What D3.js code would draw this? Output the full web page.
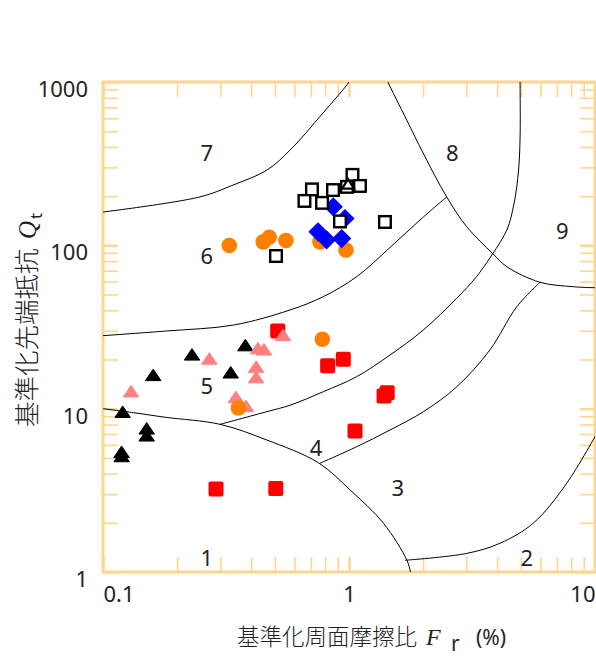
<!DOCTYPE html>
<html><head><meta charset="utf-8">
<script src="https://cdn.jsdelivr.net/npm/d3@7"></script>
<style>body{margin:0;background:#fff}</style>
</head><body>
<svg id="chart" width="596" height="657"></svg>
<script>
// ---------------- data ----------------
const xTickLabels = ["0.1", "1", "10"];
const yTickLabels = ["1", "10", "100", "1000"];

// soil behaviour zone boundaries  [Fr (%), Qt]
const boundary1  = [[0.1,10],[0.133,9.45],[0.18,8.85],[0.299,8.02],[0.463,6.43],[0.75,4.67],[1.01,3.18],[1.38,1.99],[1.72,1.18],[1.78,1.0],[1.8,0.95]];
const boundary2  = [[1.69,1.18],[3.01,1.30],[4.11,1.50],[5.61,1.99],[7.67,3.49],[10.3,7.3]];
const boundary34 = [[0.762,4.63],[1.075,5.85],[1.468,7.40],[2.005,9.58],[2.74,13.6],[3.74,22.9],[4.81,42.1],[5.98,59.4]];
const boundary45 = [[0.299,8.02],[0.463,9.58],[0.576,10.5],[0.786,12.7],[1.075,15.7],[1.468,21.3],[2.005,30.3],[2.74,47.4],[3.30,64.3],[3.84,89]];
const boundary56 = [[0.097,27.9],[0.1815,29.9],[0.339,32.5],[0.576,40.2],[0.786,48.5],[1.075,64.3],[1.468,97],[1.944,143],[2.495,198]];
const boundary67 = [[0.097,159],[0.248,198],[0.338,234],[0.464,289],[0.576,383],[0.784,646],[1.0,1000],[1.02,1060]];
const boundary8  = [[1.42,1060],[1.44,1000],[1.716,585],[2.0,368],[2.495,198],[3.01,130],[3.84,89],[4.38,74],[5.98,59.4],[8.16,55.8],[10,55],[10.4,55]];
const boundary9  = [[4.96,1060],[4.96,1000],[4.96,460],[4.89,289],[4.69,181],[4.38,124],[3.84,89]];

// zone numbers
const zoneLabels = ["1", "2", "3", "4", "5", "6", "7", "8", "9"];
const zoneFr     = [0.264, 5.28, 1.58, 0.734, 0.264, 0.264, 0.264, 2.63, 7.36];
const zoneQt     = [1.24, 1.24, 3.33, 5.8, 14.0, 87.3, 374, 374, 124];

// measured points [Fr (%), Qt]
const redSquares     = [[0.288,3.22],[0.504,3.25],[0.513,29.9],[0.819,18.3],[0.948,20.1],[1.43,12.5],[1.388,11.96],[1.058,7.3]];
const blackTriangles = [[0.1202,9.58],[0.1505,7.58],[0.1505,6.87],[0.119,5.45],[0.119,5.13],[0.160,16.1],[0.230,21.5],[0.3305,16.7],[0.379,24.5]];
const pinkTriangles  = [[0.130,12.8],[0.2705,20.3],[0.4266,23.5],[0.451,23.1],[0.419,18.1],[0.419,15.6],[0.347,11.8],[0.3814,10.4],[0.539,28.3]];
const orangeCircles  = [[0.326,99.8],[0.448,105],[0.474,112],[0.554,107],[0.762,105],[0.972,93.6],[0.779,26.6],[0.355,10.1]];
const blueDiamonds   = [[0.863,172],[0.963,146],[0.748,121],[0.811,108],[0.934,110]];
const openSquares    = [[0.707,220],[0.861,218],[0.659,187],[0.777,182],[1.033,270],[1.108,231],[0.981,228],[0.919,140],[1.40,139],[0.505,86]];
const openTriangles  = [[0.991,238]];

// ---------------- chart ----------------
const svg = d3.select("#chart");
const L = 103, R = 595, T = 82, B = 572;
const x = d3.scaleLog().domain([0.1, 10]).range([L, R]);
const y = d3.scaleLog().domain([1, 1000]).range([B, T]);
const frameColor = "#ffd68c";
const txtColor = "#222";
const numFont = "'Noto Sans', 'Open Sans', sans-serif";
const cjkFont = "'Noto Sans CJK JP', 'Noto Sans', sans-serif";
const serifFont = "'Liberation Serif', 'DejaVu Serif', serif";

const isMajor = d => Math.abs(Math.log10(d) - Math.round(Math.log10(d))) < 1e-6;

function styleTicks(g) {
  g.select(".domain").remove();
  g.selectAll(".tick line")
    .attr("stroke", frameColor)
    .attr("stroke-width", d => isMajor(d) ? 2.4 : 1.6);
  g.selectAll(".tick text")
    .attr("fill", txtColor)
    .style("font-family", numFont)
    .style("font-size", "22px");
}

const xLab = d => isMajor(d) ? xTickLabels[Math.round(Math.log10(d)) + 1] : "";
const yLab = d => isMajor(d) ? yTickLabels[Math.round(Math.log10(d))] : "";

// ticks on all four sides, inward
svg.append("g").attr("transform", `translate(0,${B})`)
  .call(d3.axisBottom(x).tickValues(x.ticks()).tickSize(-15).tickPadding(14).tickFormat(xLab))
  .call(styleTicks)
  .call(g => g.selectAll(".tick text")
    .attr("text-anchor", d => Math.abs(d - 0.1) < 1e-9 ? "start" : (Math.abs(d - 10) < 1e-9 ? "end" : "middle")));

svg.append("g").attr("transform", `translate(0,${T})`)
  .call(d3.axisTop(x).tickValues(x.ticks()).tickSize(-15).tickFormat(""))
  .call(styleTicks);

svg.append("g").attr("transform", `translate(${L},0)`)
  .call(d3.axisLeft(y).tickValues(y.ticks()).tickSize(-15).tickPadding(15).tickFormat(yLab))
  .call(styleTicks)
  .call(g => g.selectAll(".tick text").attr("dy", "0.66em"));

svg.append("g").attr("transform", `translate(${R},0)`)
  .call(d3.axisRight(y).tickValues(y.ticks()).tickSize(-15).tickFormat(""))
  .call(styleTicks);

// frame
svg.append("rect").attr("x", L).attr("y", T).attr("width", R - L).attr("height", B - T)
  .attr("fill", "none").attr("stroke", frameColor).attr("stroke-width", 3);

// clip
svg.append("clipPath").attr("id", "plotclip")
  .append("rect").attr("x", L).attr("y", T).attr("width", R - L).attr("height", B - T);

// boundaries
const line = d3.line().x(d => x(d[0])).y(d => y(d[1])).curve(d3.curveCatmullRom.alpha(0.5));
const curves = svg.append("g").attr("clip-path", "url(#plotclip)");
[boundary1, boundary2, boundary34, boundary45, boundary56, boundary67, boundary8, boundary9].forEach(b => {
  curves.append("path").attr("d", line(b)).attr("fill", "none").attr("stroke", "#000").attr("stroke-width", 1);
});

// zone numbers
svg.append("g").selectAll("text").data(zoneLabels).join("text")
  .attr("x", (d, i) => x(zoneFr[i]))
  .attr("y", (d, i) => y(zoneQt[i]))
  .attr("text-anchor", "middle")
  .attr("dominant-baseline", "central")
  .attr("fill", txtColor)
  .style("font-family", numFont)
  .style("font-size", "22px")
  .text(d => d);

// markers
const tri = (w, h) => `M0,${-h / 2}L${w / 2},${h / 2}L${-w / 2},${h / 2}Z`;
const diamond = r => `M0,${-r}L${r},0L0,${r}L${-r},0Z`;
const marks = svg.append("g");

marks.append("g").selectAll("rect").data(redSquares).join("rect")
  .attr("x", d => x(d[0]) - 7.5).attr("y", d => y(d[1]) - 7.5)
  .attr("width", 15).attr("height", 15).attr("rx", 2)
  .attr("fill", "#ff0000");

marks.append("g").selectAll("path").data(blackTriangles).join("path")
  .attr("transform", d => `translate(${x(d[0])},${y(d[1])})`)
  .attr("d", tri(15.5, 11.5))
  .attr("fill", "#000").attr("stroke", "#000").attr("stroke-width", 1).attr("stroke-linejoin", "round");

marks.append("g").selectAll("path").data(pinkTriangles).join("path")
  .attr("transform", d => `translate(${x(d[0])},${y(d[1])})`)
  .attr("d", tri(15.5, 11.5))
  .attr("fill", "#ff8080").attr("stroke", "#ff8080").attr("stroke-width", 1).attr("stroke-linejoin", "round");

marks.append("g").selectAll("circle").data(orangeCircles).join("circle")
  .attr("cx", d => x(d[0])).attr("cy", d => y(d[1])).attr("r", 7.8)
  .attr("fill", "#ff8000");

marks.append("g").selectAll("path").data(blueDiamonds).join("path")
  .attr("transform", d => `translate(${x(d[0])},${y(d[1])})`)
  .attr("d", diamond(9.6))
  .attr("fill", "#0000ff");

marks.append("g").selectAll("rect").data(openSquares).join("rect")
  .attr("x", d => x(d[0]) - 5.8).attr("y", d => y(d[1]) - 5.8)
  .attr("width", 11.6).attr("height", 11.6)
  .attr("fill", "#fff").attr("stroke", "#000").attr("stroke-width", 2.4);

marks.append("g").selectAll("path").data(openTriangles).join("path")
  .attr("transform", d => `translate(${x(d[0])},${y(d[1])})`)
  .attr("d", tri(12, 9.5))
  .attr("fill", "#fff").attr("stroke", "#000").attr("stroke-width", 2.2).attr("stroke-linejoin", "miter");

// axis titles
const xt = svg.append("text").attr("x", 237).attr("y", 645).attr("fill", txtColor)
  .style("font-size", "22.5px").style("font-family", cjkFont).style("font-weight", 300);
xt.append("tspan").text("基準化周面摩擦比");
xt.append("tspan").attr("x", 426).style("font-family", serifFont).style("font-style", "italic").style("font-weight", 400).style("font-size", "24px").text("F");
xt.append("tspan").attr("x", 451).attr("dy", 6).style("font-family", numFont).style("font-weight", 400).style("font-size", "21px").text("r");
xt.append("tspan").attr("x", 476).attr("dy", -6).style("font-family", numFont).style("font-weight", 400).style("font-size", "21px").text("(%)");

const yt = svg.append("text").attr("transform", "translate(36,427) rotate(-90)").attr("fill", txtColor)
  .style("font-size", "25.5px").style("font-family", cjkFont).style("font-weight", 300);
yt.append("tspan").attr("x", 0).attr("y", 0).text("基準化先端抵抗");
yt.append("tspan").attr("x", 188).style("font-family", serifFont).style("font-style", "italic").style("font-weight", 400).style("font-size", "25px").text("Q");
yt.append("tspan").attr("x", 208).attr("dy", 6).style("font-family", numFont).style("font-weight", 400).style("font-size", "17px").text("t");
</script>
</body></html>
